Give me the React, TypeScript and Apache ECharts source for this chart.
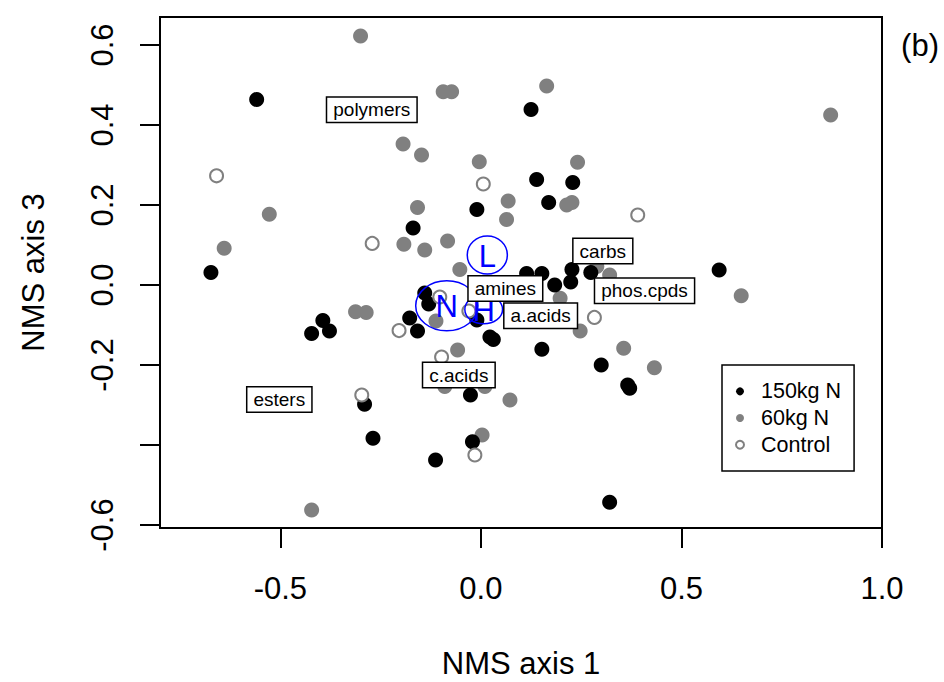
import React, { useEffect, useRef } from "react";
import * as echarts from "echarts";

// ---- Data (NMS axis 1, NMS axis 3) ----
const high150: number[][] = [
  [-0.559, 0.464], [0.125, 0.439], [0.139, 0.264], [0.229, 0.256], [-0.01, 0.189],
  [0.169, 0.206], [-0.169, 0.1425], [-0.673, 0.031], [0.594, 0.0375], [0.114, 0.029],
  [0.152, 0.029], [0.227, 0.039], [0.224, 0.0075], [0.274, 0.031], [0.184, 0.0],
  [-0.14, -0.02], [-0.13, -0.0475], [-0.1775, -0.0825], [-0.158, -0.115], [-0.01, -0.0875],
  [0.0225, -0.13], [0.031, -0.136], [-0.394, -0.089], [-0.3775, -0.115], [-0.422, -0.121],
  [0.152, -0.1605], [0.3, -0.2], [0.366, -0.25], [0.371, -0.258], [-0.026, -0.275],
  [-0.29, -0.298], [-0.269, -0.383], [-0.021, -0.392], [-0.113, -0.4375], [0.321, -0.543],
];

const mid60: number[][] = [
  [-0.3, 0.6225], [-0.094, 0.483], [-0.073, 0.483], [0.164, 0.4975], [0.872, 0.425],
  [-0.194, 0.3525], [-0.148, 0.325], [-0.004, 0.308], [0.241, 0.307], [-0.158, 0.194],
  [-0.5275, 0.177], [0.068, 0.21], [0.064, 0.164], [0.214, 0.2], [0.227, 0.206],
  [-0.192, 0.102], [-0.14, 0.0875], [-0.083, 0.11], [-0.64, 0.092], [-0.0525, 0.039],
  [0.289, 0.046], [0.321, 0.025], [0.649, -0.027], [0.1975, -0.033], [-0.112, -0.09],
  [-0.3125, -0.067], [-0.286, -0.069], [0.2475, -0.115], [-0.058, -0.1625], [0.356, -0.158],
  [0.4325, -0.207], [-0.09, -0.254], [0.01, -0.254], [0.0725, -0.2875], [0.003, -0.375],
  [-0.422, -0.5625],
];

const control: number[][] = [
  [-0.659, 0.273], [0.006, 0.2525], [0.391, 0.175], [-0.271, 0.104], [-0.1025, -0.03],
  [-0.03, -0.065], [-0.204, -0.114], [0.283, -0.081], [-0.098, -0.18], [-0.297, -0.275],
  [-0.015, -0.425],
];

// Compound-class labels (centres in NMS coordinates)
const labelNames = ["polymers", "carbs", "phos.cpds", "amines", "a.acids", "c.acids", "esters"];
const labelX = [-0.272, 0.304, 0.408, 0.061, 0.149, -0.055, -0.5025];
const labelY = [0.4383, 0.085, -0.0145, -0.009, -0.077, -0.225, -0.286];

// Group ellipses (centre, semi-axes in NMS units)
const groupNames = ["L", "N", "H"];
const ellX = [0.016, -0.085, 0.007];
const ellY = [0.075, -0.052, -0.061];
const ellRx = [0.05, 0.0775, 0.047];
const ellRy = [0.0475, 0.0625, 0.036];

// Axis ticks
const xTicks = [-0.5, 0.0, 0.5, 1.0];
const yTicks = [-0.6, -0.4, -0.2, 0.0, 0.2, 0.4, 0.6];
const yTickLabels = [-0.6, -0.2, 0.0, 0.2, 0.4, 0.6];

const seriesNames = ["150kg N", "60kg N", "Control"];

const FONT = "'Liberation Sans', Arial, Helvetica, sans-serif";
const GRAY = "#808080";

export default function App() {
  const ref = useRef<HTMLDivElement>(null);

  useEffect(() => {
    if (!ref.current) return;
    const chart = echarts.init(ref.current, undefined, { renderer: "svg" });

    const labelData = labelNames.map((n, i) => ({ name: n, value: [labelX[i], labelY[i]] }));
    const ellData = groupNames.map((n, i) => [ellX[i], ellY[i], ellRx[i], ellRy[i]]);

    const option: any = {
      animation: false,
      backgroundColor: "#fff",
      textStyle: { fontFamily: FONT },
      grid: {
        left: 160,
        top: 17,
        width: 722,
        height: 511,
        show: true,
        borderColor: "#000",
        borderWidth: 2,
        backgroundColor: "transparent",
      },
      xAxis: {
        type: "value",
        min: -0.8,
        max: 1.0,
        splitLine: { show: false },
        axisLine: { show: false, onZero: false },
        axisTick: {
          show: true,
          customValues: xTicks,
          length: 20,
          inside: false,
          lineStyle: { color: "#000", width: 2 },
        },
        axisLabel: {
          customValues: xTicks,
          fontSize: 31,
          color: "#000",
          fontFamily: FONT,
          margin: 45,
          formatter: (v: number) => v.toFixed(1),
        },
      },
      yAxis: {
        type: "value",
        min: -0.6075,
        max: 0.67,
        splitLine: { show: false },
        axisLine: { show: false, onZero: false },
        axisTick: {
          show: true,
          customValues: yTicks,
          length: 20,
          inside: false,
          lineStyle: { color: "#000", width: 2 },
        },
        axisLabel: {
          customValues: yTickLabels,
          rotate: 90,
          fontSize: 31,
          color: "#000",
          fontFamily: FONT,
          margin: 42,
          formatter: (v: number) => v.toFixed(1),
        },
      },
      legend: {
        data: seriesNames,
        orient: "vertical",
        left: 722,
        top: 365,
        itemWidth: 8,
        itemHeight: 8,
        itemGap: 0,
        padding: [13, 13, 13, 13],
        borderColor: "#000",
        borderWidth: 1.5,
        backgroundColor: "#fff",
        selectedMode: false,
        textStyle: {
          fontSize: 21.5,
          color: "#000",
          fontFamily: FONT,
          lineHeight: 26.7,
          padding: [0, 0, 0, 12],
        },
      },
      series: [
        {
          name: "60kg N",
          type: "scatter",
          data: mid60,
          symbol: "circle",
          symbolSize: 15,
          itemStyle: { color: GRAY, opacity: 1 },
          z: 2,
          silent: true,
        },
        {
          name: "150kg N",
          type: "scatter",
          data: high150,
          symbol: "circle",
          symbolSize: 15,
          itemStyle: { color: "#000", opacity: 1 },
          z: 3,
          silent: true,
        },
        {
          name: "Control",
          type: "scatter",
          data: control,
          symbol: "circle",
          symbolSize: 13,
          itemStyle: { color: "#fff", borderColor: GRAY, borderWidth: 2, opacity: 1 },
          z: 4,
          silent: true,
        },
        {
          type: "custom",
          data: ellData,
          z: 5,
          silent: true,
          renderItem: (params: any, api: any) => {
            const c = api.coord([api.value(0), api.value(1)]);
            const s = api.size([api.value(2), api.value(3)]);
            const name = groupNames[params.dataIndex];
            return {
              type: "group",
              children: [
                {
                  type: "ellipse",
                  shape: { cx: c[0], cy: c[1], rx: s[0], ry: s[1] },
                  style: { fill: "none", stroke: "#0000ff", lineWidth: 1.5 },
                },
                {
                  type: "text",
                  x: c[0],
                  y: c[1] + 1,
                  style: {
                    text: name,
                    align: "center",
                    verticalAlign: "middle",
                    fill: "#0000ff",
                    fontSize: 31,
                    fontFamily: FONT,
                  },
                },
              ],
            };
          },
        },
        {
          type: "scatter",
          data: labelData,
          symbolSize: 0,
          z: 6,
          silent: true,
          itemStyle: { color: "#000", opacity: 1 },
          label: {
            show: true,
            position: "inside",
            formatter: (p: any) => p.name,
            fontSize: 19,
            color: "#000",
            fontFamily: FONT,
            textBorderWidth: 0,
            textBorderColor: "transparent",
            textShadowBlur: 0,
            backgroundColor: "#fff",
            borderColor: "#000",
            borderWidth: 1.5,
            padding: [3, 6, 2, 6],
          },
        },
      ],
      graphic: [
        {
          type: "text",
          x: 521,
          y: 663,
          style: {
            text: "NMS axis 1",
            align: "center",
            verticalAlign: "middle",
            fontSize: 31,
            fontFamily: FONT,
            fill: "#000",
          },
        },
        {
          type: "text",
          x: 33,
          y: 272.5,
          rotation: Math.PI / 2,
          style: {
            text: "NMS axis 3",
            align: "center",
            verticalAlign: "middle",
            fontSize: 31,
            fontFamily: FONT,
            fill: "#000",
          },
        },
        {
          type: "text",
          x: 920,
          y: 45,
          style: {
            text: "(b)",
            align: "center",
            verticalAlign: "middle",
            fontSize: 31,
            fontFamily: FONT,
            fill: "#000",
          },
        },
      ],
    };

    chart.setOption(option);
    return () => chart.dispose();
  }, []);

  return (
    <div
      ref={ref}
      style={{ width: 944, height: 682, position: "absolute", left: 0, top: 0 }}
    />
  );
}
